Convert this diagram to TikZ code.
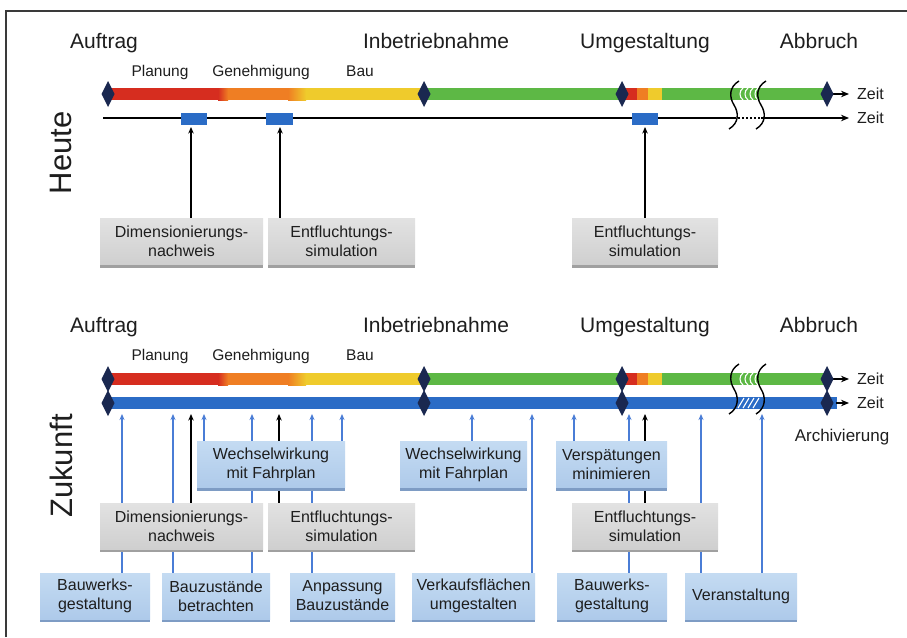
\documentclass[tikz,border=0pt]{standalone}
\usepackage{fontspec}
\setmainfont{Liberation Sans}
\usetikzlibrary{arrows.meta,shadows,backgrounds}
\definecolor{cred}{HTML}{D62D1F}
\definecolor{corange}{HTML}{EF7E23}
\definecolor{cyellow}{HTML}{EFCB2C}
\definecolor{cgreen}{HTML}{5DB845}
\definecolor{cblue}{HTML}{2B6CC6}
\definecolor{cline}{HTML}{4A7DD6}
\definecolor{cnavy}{HTML}{1A2850}
\definecolor{gtop}{HTML}{E2E2E2}
\definecolor{gbot}{HTML}{CFCFCF}
\definecolor{gshad}{HTML}{A0A0A0}
\definecolor{btop}{HTML}{C4DBF2}
\definecolor{bbot}{HTML}{AECAEA}
\definecolor{bshad}{HTML}{7E9CC4}
\definecolor{txt}{HTML}{1E1E1E}
\definecolor{framec}{HTML}{3A3A3A}
\tikzset{
  big/.style={font=\fontsize{21}{24}\selectfont, anchor=base, text=txt, inner sep=0pt},
  phase/.style={font=\fontsize{15.5}{18}\selectfont, anchor=base, text=txt, inner sep=0pt},
  zeit/.style={font=\fontsize{16}{18}\selectfont, anchor=west, text=txt, inner sep=0pt},
  side/.style={font=\fontsize{31}{34}\selectfont, rotate=90, text=txt, inner sep=0pt},
  box/.style={align=center, font=\fontsize{16}{19}\selectfont, text=txt, inner sep=0pt, minimum height=46pt},
  gbox/.style={box, top color=gtop, bottom color=gbot, drop shadow={shadow xshift=0pt, shadow yshift=-3pt, fill=gshad, opacity=1}},
  bbox/.style={box, top color=btop, bottom color=bbot, drop shadow={shadow xshift=0pt, shadow yshift=-3pt, fill=bshad, opacity=1}},
  blarr/.style={draw=cline, line width=1.3pt, -{Stealth[length=6pt,width=5pt]}},
  karr/.style={draw=black, line width=1.6pt, -{Stealth[length=6.5pt,width=5.5pt]}},
  zarr/.style={draw=black, line width=1.5pt, -{Stealth[length=8pt,width=6.5pt]}},
  brkline/.style={draw=black, line width=1.4pt},
  hatch/.style={draw=white, line width=1.1pt},
}
\newcommand\dmd[2]{\fill[cnavy] (#1,#2-13) -- (#1+6.5,#2) -- (#1,#2+13) -- (#1-6.5,#2) -- cycle;}
\newcommand\brkmark[3]{\draw[brkline] (#1+5,#2) .. controls (#1-5,#2+6) and (#1-5,{(#2+#3)/2-8}) .. (#1,{(#2+#3)/2}) .. controls (#1+5,{(#2+#3)/2+8}) and (#1+5,#3-6) .. (#1-5,#3);}
\begin{document}
\begin{tikzpicture}[x=1pt,y=-1pt]
\useasboundingbox (0,0) rectangle (907,637);
\begin{pgfonlayer}{background}
\fill[white] (0,0) rectangle (907,637);
\end{pgfonlayer}
\draw[framec, line width=1.5pt] (6,637) -- (6,11) -- (907,11);

% ---------- labels ----------
\foreach \dy/\pre in {0/h,284/z}{
  \begin{scope}[shift={(0,\dy)}]
  \node[big] (\pre auf) at (104,48) {Auftrag};
  \node[big] (\pre inb) at (436,48) {Inbetriebnahme};
  \node[big] (\pre umg) at (645,48) {Umgestaltung};
  \node[big] (\pre abb) at (819,48) {Abbruch};
  \node[phase] (\pre pla) at (160,76) {Planung};
  \node[phase] (\pre gen) at (261,76) {Genehmigung};
  \node[phase] (\pre bau) at (360,76) {Bau};
  \end{scope}
}
\node[side] (heute) at (61,153) {Heute};
\node[side] (zukunft) at (61,466) {Zukunft};

% ---------- colour bars (top and Zukunft green) ----------
\foreach \y in {94,379}{
  \fill[cred] (108,\y-6) rectangle (222,\y+6);
  \shade[left color=cred, right color=corange] (218,\y-6) rectangle (228,\y+6);
  \fill[corange] (228,\y-6) rectangle (288,\y+6);
  \shade[left color=corange, right color=cyellow] (288,\y-6) rectangle (306,\y+6);
  \fill[cyellow] (306,\y-6) rectangle (424,\y+6);
  \fill[cgreen] (424,\y-6) rectangle (622,\y+6);
  \fill[cred] (622,\y-6) rectangle (637,\y+6);
  \fill[corange] (637,\y-6) rectangle (648,\y+6);
  \fill[cyellow] (648,\y-6) rectangle (662,\y+6);
  \fill[cgreen] (662,\y-6) rectangle (827,\y+6);
  \foreach \hx in {741,746,751,756}{
    \draw[hatch] (\hx+2,\y-6) .. controls (\hx-2,\y-3) and (\hx-2,\y+3) .. (\hx+2,\y+6);
  }
}
% blue bar Zukunft
\fill[cblue] (108,397) rectangle (837,409);
\foreach \hx in {741,746,751,756}{
  \draw[hatch] (\hx-3,408) -- (\hx+3,398);
}

% ---------- time axes ----------
\coordinate (tz1a) at (827,94);  \coordinate (tz1b) at (849,94);
\draw[zarr] (tz1a) -- (tz1b);
\node[zeit] (zeit1) at (857,94) {Zeit};
\coordinate (hl0) at (103,118); \coordinate (hl1) at (734,118);
\coordinate (hl2) at (761,118); \coordinate (hl3) at (849,118);
\draw[black, line width=1.5pt] (hl0) -- (hl1);
\draw[black, line width=1.5pt, dash pattern=on 2pt off 2pt] (hl1) -- (hl2);
\draw[zarr] (hl2) -- (hl3);
\node[zeit] (zeit2) at (857,118) {Zeit};
\coordinate (tz3a) at (827,379); \coordinate (tz3b) at (849,379);
\draw[zarr] (tz3a) -- (tz3b);
\node[zeit] (zeit3) at (857,379) {Zeit};
\coordinate (tz4a) at (836,403); \coordinate (tz4b) at (849,403);
\draw[zarr] (tz4a) -- (tz4b);
\node[zeit] (zeit4) at (857,403) {Zeit};

% ---------- diamonds ----------
\foreach \x in {108,424,622,827}{
  \dmd{\x}{94}
  \dmd{\x}{379}
  \dmd{\x}{403}
}

% ---------- break marks ----------
\brkmark{734}{81}{129}
\brkmark{761}{81}{129}
\brkmark{734}{364}{414}
\brkmark{761}{364}{414}

% ---------- Heute markers ----------
\node[fill=cblue, minimum width=26pt, minimum height=12pt, inner sep=0pt] (hm1) at (194,119) {};
\node[fill=cblue, minimum width=27pt, minimum height=12pt, inner sep=0pt] (hm2) at (279.5,119) {};
\node[fill=cblue, minimum width=26pt, minimum height=12pt, inner sep=0pt] (hm3) at (645,119) {};

\node[font=\fontsize{17}{20}\selectfont, anchor=base, text=txt, inner sep=0pt] (arch) at (842,441) {Archivierung};

% ---------- boxes ----------
\node[gbox, minimum width=163pt] (hdim) at (181.5,241.5) {Dimensionierungs-\\nachweis};
\node[gbox, minimum width=147pt] (hent) at (341.5,241.5) {Entfluchtungs-\\simulation};
\node[gbox, minimum width=146pt] (hent2) at (645,241.5) {Entfluchtungs-\\simulation};

\node[bbox, minimum width=148pt] (w1) at (271,464.5) {Wechselwirkung\\mit Fahrplan};
\node[bbox, minimum width=127pt] (w2) at (463.5,464.5) {Wechselwirkung\\mit Fahrplan};
\node[bbox, minimum width=111pt] (vm) at (611.5,464.5) {Verspätungen\\minimieren};

\node[gbox, minimum width=163pt] (zdim) at (181.5,526) {Dimensionierungs-\\nachweis};
\node[gbox, minimum width=147pt] (zent) at (341.5,526) {Entfluchtungs-\\simulation};
\node[gbox, minimum width=146pt] (zent2) at (645,526) {Entfluchtungs-\\simulation};

\node[bbox, minimum width=110pt] (b1) at (95,596) {Bauwerks-\\gestaltung};
\node[bbox, minimum width=108pt] (bz) at (216,596) {Bauzustände\\betrachten};
\node[bbox, minimum width=105pt] (ab) at (342.5,596) {Anpassung\\Bauzustände};
\node[bbox, minimum width=123pt] (vk) at (473.5,596) {Verkaufsflächen\\umgestalten};
\node[bbox, minimum width=110pt] (b2) at (612,596) {Bauwerks-\\gestaltung};
\node[bbox, minimum width=112pt] (va) at (741,596) {Veranstaltung};

% ---------- connectors (behind boxes) ----------
\begin{pgfonlayer}{background}
\foreach \x/\n in {191/hdim,280/hent,645/hent2}{
  \coordinate (ht\x) at (\x,127);
  \draw[karr] (\n.north -| ht\x) -- (ht\x);
}
\foreach \x/\n in {122/b1,173/bz,204/w1,252/bz,312/ab,342/w1,472/w2,532/vk,574/vm,629/b2,701/va,762/va}{
  \coordinate (zt\x) at (\x,414);
  \draw[blarr] (\n.north -| zt\x) -- (zt\x);
}
\foreach \x/\n in {191/zdim,279/zent,645/zent2}{
  \coordinate (zk\x) at (\x,414);
  \draw[karr] (\n.north -| zk\x) -- (zk\x);
}
\end{pgfonlayer}
\end{tikzpicture}
\end{document}
